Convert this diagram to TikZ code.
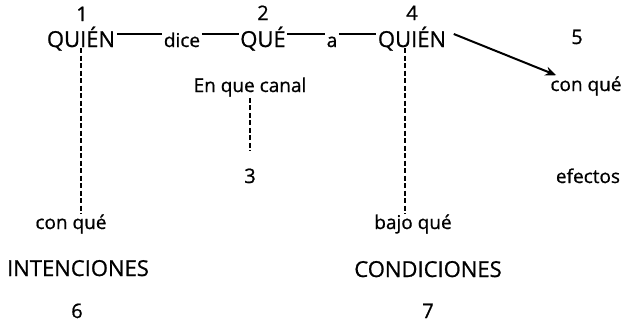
\documentclass[tikz,border=0pt]{standalone}
\usepackage{fontspec}
\setmainfont{Open Sans}[FakeBold=0.8]
\usepackage{tikz}
\usetikzlibrary{
  positioning,
  arrows.meta
}

\begin{document}
\begin{tikzpicture}[x=1pt,y=-1pt,
	every node/.style={anchor=base, inner sep=1pt},
	mayus/.style={font=\fontsize{22}{24}\selectfont},
	minus/.style={font=\fontsize{19}{21}\selectfont},
	numero/.style={font=\fontsize{20}{22}\selectfont},
	palabra/.style={text height=26pt, text depth=0pt, inner xsep=1.5pt},
	enlace/.style={line width=1.5pt},
	guion/.style={line width=2pt, dash pattern=on 5pt off 2.5pt},
	flecha/.style={line width=2pt, -{Stealth[length=11pt,width=9pt]}}]

	\useasboundingbox (0,0) rectangle (623,324);

	% fila de arriba
	\node[numero] (n1) at (82,21) {1};
	\node[mayus,palabra] (quien1) at (81,47) {QUIÉN};
	\node[minus,palabra] (dice) at (182,47) {dice};
	\node[numero] (n2) at (263,20) {2};
	\node[mayus,palabra] (que) at (263,47) {QUÉ};
	\node[minus,palabra] (a) at (332,47) {a};
	\node[numero] (n4) at (412,20) {4};
	\node[mayus,palabra] (quien2) at (412,47) {QUIÉN};
	\node[numero] (n5) at (577,44) {5};

	\node[minus] (canal) at (250,92) {En que canal};
	\node[minus] (conque2) at (586,91) {con qué};
	\node[numero] (n3) at (250,183) {3};
	\node[minus] (efectos) at (588,183) {efectos};

	% fila de abajo
	\node[minus] (conque1) at (71,229) {con qué};
	\node[minus] (bajo) at (413,229) {bajo qué};
	\node[mayus] (intenc) at (78,276) {INTENCIONES};
	\node[mayus] (condic) at (428,277) {CONDICIONES};
	\node[numero] (n6) at (77,318) {6};
	\node[numero] (n7) at (428,318) {7};

	\draw[enlace] (quien1.east) -- (dice.west);
	\draw[enlace] (dice.east) -- (que.west);
	\draw[enlace] (que.east) -- (a.west);
	\draw[enlace] (a.east) -- (quien2.west);

	\draw[guion] (quien1.south) -- (quien1.south |- conque1.north);
	\draw[guion] (canal.south) -- ([yshift=17pt]n3.north);
	\draw[guion] ([xshift=-7pt]quien2.south) -- ([xshift=-7pt]quien2.south |- bajo.north);

	\draw[flecha] ([xshift=6pt]quien2.east) -- ([xshift=7pt]conque2.north west);

\end{tikzpicture}
\end{document}
